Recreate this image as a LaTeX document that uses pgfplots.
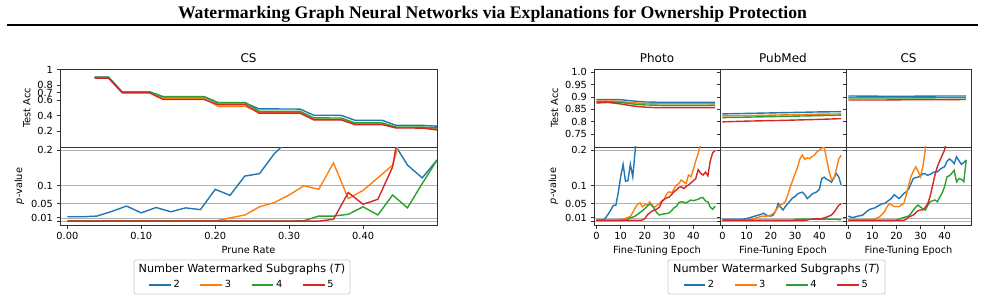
\documentclass[border=0pt]{standalone}
\usepackage{fontspec}
\setmainfont{DejaVu Sans}
\newfontfamily\titlefont{Liberation Serif}
\usepackage{pgfplots}
\usepackage{pgfplotstable}
\pgfplotsset{compat=1.18}
\definecolor{tblue}{HTML}{1F77B4}
\definecolor{torange}{HTML}{FF7F0E}
\definecolor{tgreen}{HTML}{2CA02C}
\definecolor{tred}{HTML}{D62728}

\pgfplotstableread{
x b o g r
0.0370 0.904 0.897 0.900 0.891
0.0556 0.904 0.897 0.900 0.891
0.0741 0.712 0.705 0.711 0.698
0.0926 0.712 0.705 0.711 0.698
0.1111 0.712 0.705 0.711 0.698
0.1296 0.645 0.622 0.648 0.611
0.1481 0.645 0.622 0.648 0.611
0.1667 0.645 0.622 0.648 0.611
0.1852 0.645 0.622 0.648 0.611
0.2037 0.566 0.522 0.572 0.545
0.2222 0.566 0.522 0.572 0.545
0.2407 0.566 0.522 0.572 0.545
0.2593 0.488 0.440 0.458 0.432
0.2778 0.488 0.440 0.458 0.432
0.2963 0.487 0.440 0.457 0.432
0.3148 0.486 0.440 0.457 0.432
0.3333 0.405 0.352 0.370 0.344
0.3519 0.405 0.352 0.370 0.344
0.3704 0.404 0.352 0.369 0.344
0.3889 0.340 0.290 0.305 0.283
0.4074 0.340 0.290 0.305 0.283
0.4259 0.339 0.290 0.305 0.283
0.4444 0.274 0.245 0.252 0.239
0.4630 0.274 0.245 0.252 0.239
0.4815 0.272 0.244 0.250 0.236
0.5000 0.262 0.222 0.239 0.213
}\accleft

\pgfplotstableread{
x b o g r
0.00 0.013 0.001 0.001 0.001
0.02 0.013 0.001 0.001 0.001
0.04 0.015 0.001 0.001 0.001
0.06 0.028 0.001 0.001 0.001
0.08 0.043 0.001 0.001 0.001
0.10 0.024 0.001 0.001 0.001
0.12 0.039 0.001 0.001 0.001
0.14 0.027 0.001 0.001 0.001
0.16 0.038 0.001 0.001 0.001
0.18 0.033 0.001 0.001 0.001
0.20 0.090 0.001 0.001 0.001
0.22 0.073 0.010 0.001 0.001
0.24 0.127 0.018 0.001 0.001
0.26 0.134 0.041 0.001 0.001
0.28 0.190 0.053 0.001 0.001
0.30 0.230 0.074 0.001 0.001
0.32 0.300 0.100 0.002 0.001
0.34 0.350 0.090 0.015 0.001
0.36 0.400 0.164 0.015 0.006
0.38 0.380 0.064 0.020 0.081
0.40 0.350 0.087 0.041 0.048
0.42 0.300 0.122 0.018 0.062
0.44 0.225 0.158 0.074 0.153
0.46 0.158 0.300 0.038 0.400
0.48 0.122 0.350 0.106 0.500
0.50 0.172 0.400 0.172 0.500
}\pleft

\pgfplotstableread{
e b o g r
0 0.890 0.884 0.882 0.876
5 0.890 0.884 0.881 0.878
10 0.889 0.882 0.878 0.872
15 0.884 0.877 0.872 0.864
20 0.880 0.874 0.868 0.859
25 0.879 0.873 0.867 0.857
30 0.879 0.873 0.866 0.857
35 0.879 0.873 0.866 0.857
40 0.879 0.873 0.866 0.857
45 0.879 0.873 0.866 0.857
49 0.879 0.872 0.866 0.857
}\accphoto

\pgfplotstableread{
e b o g r
0 0.832 0.824 0.817 0.800
10 0.834 0.825 0.819 0.803
25 0.837 0.828 0.822 0.806
40 0.840 0.831 0.825 0.810
49 0.841 0.832 0.827 0.813
}\accpub

\pgfplotstableread{
e b o g r
0 0.904 0.899 0.896 0.888
15 0.903 0.899 0.896 0.888
25 0.903 0.899 0.896 0.889
40 0.904 0.899 0.897 0.889
49 0.904 0.899 0.897 0.890
}\acccs

\pgfplotstableread{
e b o g r
0 0.004 0.003 0.003 0.003
1 0.004 0.003 0.003 0.003
2 0.004 0.003 0.003 0.003
3 0.004 0.003 0.003 0.003
4 0.012 0.003 0.003 0.003
5 0.022 0.003 0.003 0.003
6 0.033 0.003 0.003 0.003
7 0.045 0.003 0.003 0.003
8 0.045 0.003 0.003 0.003
9 0.080 0.003 0.003 0.003
10 0.125 0.004 0.003 0.003
11 0.160 0.006 0.003 0.003
12 0.113 0.009 0.004 0.003
13 0.114 0.011 0.006 0.003
14 0.160 0.014 0.010 0.003
15 0.125 0.025 0.012 0.003
16 0.200 0.038 0.015 0.003
17 0.300 0.048 0.020 0.003
18 0.300 0.052 0.025 0.003
19 0.300 0.041 0.030 0.004
20 0.300 0.047 0.036 0.008
21 0.300 0.046 0.043 0.018
22 0.300 0.055 0.048 0.024
23 0.300 0.042 0.046 0.029
24 0.300 0.040 0.033 0.032
25 0.300 0.045 0.024 0.035
26 0.300 0.050 0.018 0.040
27 0.300 0.058 0.020 0.055
28 0.300 0.062 0.021 0.062
29 0.300 0.078 0.022 0.066
30 0.300 0.083 0.024 0.068
31 0.300 0.080 0.030 0.075
32 0.300 0.090 0.038 0.083
33 0.300 0.102 0.042 0.088
34 0.300 0.106 0.053 0.095
35 0.300 0.116 0.055 0.097
36 0.300 0.111 0.054 0.092
37 0.300 0.106 0.052 0.098
38 0.300 0.130 0.056 0.102
39 0.300 0.125 0.060 0.108
40 0.300 0.145 0.058 0.114
41 0.300 0.170 0.060 0.120
42 0.300 0.190 0.062 0.145
43 0.300 0.220 0.066 0.135
44 0.300 0.300 0.067 0.130
45 0.300 0.300 0.057 0.138
46 0.300 0.300 0.055 0.128
47 0.300 0.300 0.040 0.170
48 0.300 0.300 0.034 0.193
49 0.300 0.300 0.043 0.198
}\pphoto

\pgfplotstableread{
e b o g r
0 0.006 0.004 0.003 0.003
1 0.006 0.004 0.003 0.003
2 0.006 0.004 0.003 0.003
3 0.006 0.004 0.003 0.003
4 0.006 0.004 0.003 0.003
5 0.006 0.004 0.003 0.003
6 0.006 0.004 0.003 0.003
7 0.006 0.004 0.003 0.003
8 0.006 0.004 0.003 0.003
9 0.007 0.004 0.003 0.003
10 0.008 0.004 0.003 0.003
11 0.010 0.004 0.003 0.003
12 0.012 0.006 0.003 0.003
13 0.014 0.008 0.003 0.003
14 0.016 0.010 0.003 0.003
15 0.018 0.012 0.003 0.003
16 0.020 0.014 0.003 0.003
17 0.023 0.015 0.003 0.003
18 0.018 0.014 0.003 0.003
19 0.016 0.016 0.003 0.003
20 0.015 0.018 0.003 0.003
21 0.018 0.022 0.003 0.003
22 0.030 0.030 0.003 0.003
23 0.050 0.040 0.003 0.003
24 0.040 0.046 0.003 0.003
25 0.032 0.050 0.003 0.003
26 0.042 0.056 0.003 0.003
27 0.050 0.075 0.003 0.003
28 0.058 0.097 0.003 0.003
29 0.066 0.115 0.003 0.003
30 0.070 0.134 0.005 0.003
31 0.077 0.152 0.006 0.003
32 0.080 0.175 0.006 0.003
33 0.082 0.186 0.006 0.003
34 0.075 0.174 0.007 0.003
35 0.064 0.178 0.006 0.004
36 0.070 0.176 0.006 0.006
37 0.077 0.182 0.007 0.006
38 0.080 0.186 0.006 0.007
39 0.083 0.195 0.006 0.008
40 0.090 0.200 0.007 0.006
41 0.120 0.205 0.006 0.008
42 0.124 0.208 0.006 0.010
43 0.118 0.175 0.007 0.012
44 0.115 0.140 0.006 0.015
45 0.110 0.118 0.006 0.018
46 0.122 0.120 0.006 0.025
47 0.134 0.145 0.006 0.035
48 0.125 0.175 0.005 0.045
49 0.102 0.185 0.005 0.050
}\ppub

\pgfplotstableread{
e b o g r
0 0.015 0.004 0.003 0.003
1 0.012 0.004 0.003 0.003
2 0.011 0.004 0.003 0.003
3 0.013 0.004 0.003 0.003
4 0.015 0.004 0.003 0.003
5 0.016 0.004 0.003 0.003
6 0.018 0.004 0.003 0.003
7 0.024 0.004 0.003 0.003
8 0.030 0.004 0.003 0.003
9 0.034 0.004 0.003 0.003
10 0.036 0.005 0.003 0.003
11 0.038 0.007 0.003 0.003
12 0.042 0.010 0.003 0.003
13 0.046 0.013 0.003 0.003
14 0.050 0.020 0.003 0.003
15 0.050 0.027 0.003 0.003
16 0.055 0.040 0.003 0.003
17 0.060 0.050 0.003 0.003
18 0.065 0.046 0.003 0.003
19 0.075 0.042 0.003 0.003
20 0.070 0.041 0.004 0.003
21 0.064 0.041 0.006 0.003
22 0.070 0.046 0.009 0.003
23 0.078 0.050 0.011 0.003
24 0.082 0.072 0.013 0.006
25 0.090 0.100 0.015 0.012
26 0.105 0.125 0.022 0.015
27 0.120 0.140 0.032 0.018
28 0.123 0.153 0.040 0.024
29 0.124 0.140 0.046 0.030
30 0.128 0.125 0.040 0.032
31 0.134 0.155 0.035 0.032
32 0.133 0.200 0.032 0.040
33 0.129 0.260 0.045 0.050
34 0.132 0.300 0.055 0.070
35 0.136 0.300 0.058 0.100
36 0.139 0.300 0.060 0.130
37 0.139 0.300 0.055 0.153
38 0.145 0.300 0.068 0.170
39 0.150 0.300 0.080 0.185
40 0.153 0.300 0.097 0.200
41 0.168 0.300 0.125 0.230
42 0.175 0.300 0.128 0.300
43 0.170 0.300 0.135 0.300
44 0.162 0.300 0.143 0.300
45 0.181 0.300 0.111 0.300
46 0.170 0.300 0.120 0.300
47 0.160 0.300 0.118 0.300
48 0.165 0.300 0.111 0.300
49 0.172 0.300 0.172 0.300
}\pcs

\pgfplotsset{
  base/.style={
    scale only axis, height=78pt,
    tick align=outside, major tick length=3.5pt,
    every tick/.style={black!80, line width=0.8pt},
    axis line style={black!80, line width=0.8pt},
    ticklabel style={font=\fontsize{9.8}{11}\selectfont},
    label style={font=\fontsize{9.8}{11}\selectfont},
    title style={font=\fontsize{12}{14}\selectfont, at={(0.5,1)}, anchor=base, yshift=0.4pt},
    xtick pos=bottom, ytick pos=left,
    /pgf/number format/assume math mode=true,
    every axis plot/.append style={line width=1.4pt, mark=none},
    legend image code/.code={\draw[##1,line width=1.4pt] (0pt,0pt) -- (21.6pt,0pt);},
  },
  pgrid/.style={ymajorgrids, grid style={black!30, line width=0.7pt}, ymin=-0.01, ymax=0.2085,
    ytick={0,0.01,0.05,0.1,0.2}},
  leg/.style={legend columns=4, draw=none, fill=none, anchor=center,
    font=\fontsize{9.8}{11}\selectfont,
    /tikz/every even column/.append style={column sep=18pt}},
  rtop/.style={base, width=126pt, xmin=-1, xmax=51, ymin=0.699, ymax=1.0125,
    xtick=\empty, ytick={0.75,0.8,0.85,0.9,0.95,1.0}},
  rbot/.style={base, pgrid, width=126pt, xmin=-1, xmax=51, xtick={0,10,20,30,40},
    xticklabels={0,10,20,30,40}, xlabel={Fine-Tuning Epoch}},
}

\begin{document}
\begin{tikzpicture}
\path[use as bounding box] (0,0) rectangle (985pt,-302pt);
\node[font=\titlefont\bfseries\fontsize{17.7}{20}\selectfont, anchor=base] at (492.5pt,-18.3pt)
  {Watermarking Graph Neural Networks via Explanations for Ownership Protection};
\draw[line width=1.3pt] (7pt,-25pt) -- (978pt,-25pt);

% legend boxes
\draw[black!20, line width=0.8pt, fill=white, rounded corners=2pt] (134pt,-260pt) rectangle (350pt,-294pt);
\node[font=\fontsize{11.2}{13}\selectfont] at (242pt,-269pt) {Number Watermarked Subgraphs ({\itshape T})};
\draw[black!20, line width=0.8pt, fill=white, rounded corners=2pt] (668pt,-260pt) rectangle (885pt,-294pt);
\node[font=\fontsize{11.2}{13}\selectfont] at (776.5pt,-269pt) {Number Watermarked Subgraphs ({\itshape T})};

% ---------- left: CS pruning ----------
\begin{axis}[base, at={(60pt,-147pt)}, anchor=south west, width=377pt,
  xmin=-0.01, xmax=0.5, ymin=-0.01, ymax=1.01, xtick=\empty,
  ytick={0.2,0.4,0.6,0.7,0.8,1}, yticklabels={0.2,0.4,0.6,0.7,0.8,1},
  ylabel={Test Acc}, title={CS}]
\addplot[tblue] table[x=x,y=b]{\accleft};
\addplot[torange] table[x=x,y=o]{\accleft};
\addplot[tgreen] table[x=x,y=g]{\accleft};
\addplot[tred] table[x=x,y=r]{\accleft};
\end{axis}
\begin{axis}[base, pgrid, at={(60pt,-225pt)}, anchor=south west, width=377pt,
  xmin=-0.01, xmax=0.5, xtick={0,0.1,0.2,0.3,0.4},
  xticklabels={0.00,0.10,0.20,0.30,0.40},
  yticklabels={,0.01,0.05,0.1,0.2},
  ylabel={{\itshape p}-value}, xlabel={Prune Rate},
  legend style={leg, at={(0.4828,-0.769)}}]
\addplot[tblue] table[x=x,y=b]{\pleft};
\addplot[torange] table[x=x,y=o]{\pleft};
\addplot[tgreen] table[x=x,y=g]{\pleft};
\addplot[tred] table[x=x,y=r]{\pleft};
\legend{2,3,4,5}
\end{axis}

% ---------- right: fine-tuning ----------
\begin{axis}[rtop, at={(594pt,-147pt)}, anchor=south west,
  yticklabels={0.75,0.8,0.85,0.9,0.95,1.0}, ylabel={Test Acc}, title={Photo}]
\addplot[tblue] table[x=e,y=b]{\accphoto};
\addplot[torange] table[x=e,y=o]{\accphoto};
\addplot[tgreen] table[x=e,y=g]{\accphoto};
\addplot[tred] table[x=e,y=r]{\accphoto};
\end{axis}
\begin{axis}[rtop, at={(720pt,-147pt)}, anchor=south west, yticklabels={}, title={PubMed}]
\addplot[tblue] table[x=e,y=b]{\accpub};
\addplot[torange] table[x=e,y=o]{\accpub};
\addplot[tgreen] table[x=e,y=g]{\accpub};
\addplot[tred] table[x=e,y=r]{\accpub};
\end{axis}
\begin{axis}[rtop, at={(846pt,-147pt)}, anchor=south west, width=125pt, yticklabels={}, title={CS}]
\addplot[tblue] table[x=e,y=b]{\acccs};
\addplot[torange] table[x=e,y=o]{\acccs};
\addplot[tgreen] table[x=e,y=g]{\acccs};
\addplot[tred] table[x=e,y=r]{\acccs};
\end{axis}

\begin{axis}[rbot, at={(594pt,-225pt)}, anchor=south west,
  yticklabels={,0.01,0.05,0.1,0.2}, ylabel={{\itshape p}-value}]
\addplot[tblue] table[x=e,y=b]{\pphoto};
\addplot[torange] table[x=e,y=o]{\pphoto};
\addplot[tgreen] table[x=e,y=g]{\pphoto};
\addplot[tred] table[x=e,y=r]{\pphoto};
\end{axis}
\begin{axis}[rbot, at={(720pt,-225pt)}, anchor=south west, yticklabels={},
  legend style={leg, at={(0.448,-0.769)}}]
\addplot[tblue] table[x=e,y=b]{\ppub};
\addplot[torange] table[x=e,y=o]{\ppub};
\addplot[tgreen] table[x=e,y=g]{\ppub};
\addplot[tred] table[x=e,y=r]{\ppub};
\legend{2,3,4,5}
\end{axis}
\begin{axis}[rbot, at={(846pt,-225pt)}, anchor=south west, width=125pt, yticklabels={}]
\addplot[tblue] table[x=e,y=b]{\pcs};
\addplot[torange] table[x=e,y=o]{\pcs};
\addplot[tgreen] table[x=e,y=g]{\pcs};
\addplot[tred] table[x=e,y=r]{\pcs};
\end{axis}
\end{tikzpicture}
\end{document}
